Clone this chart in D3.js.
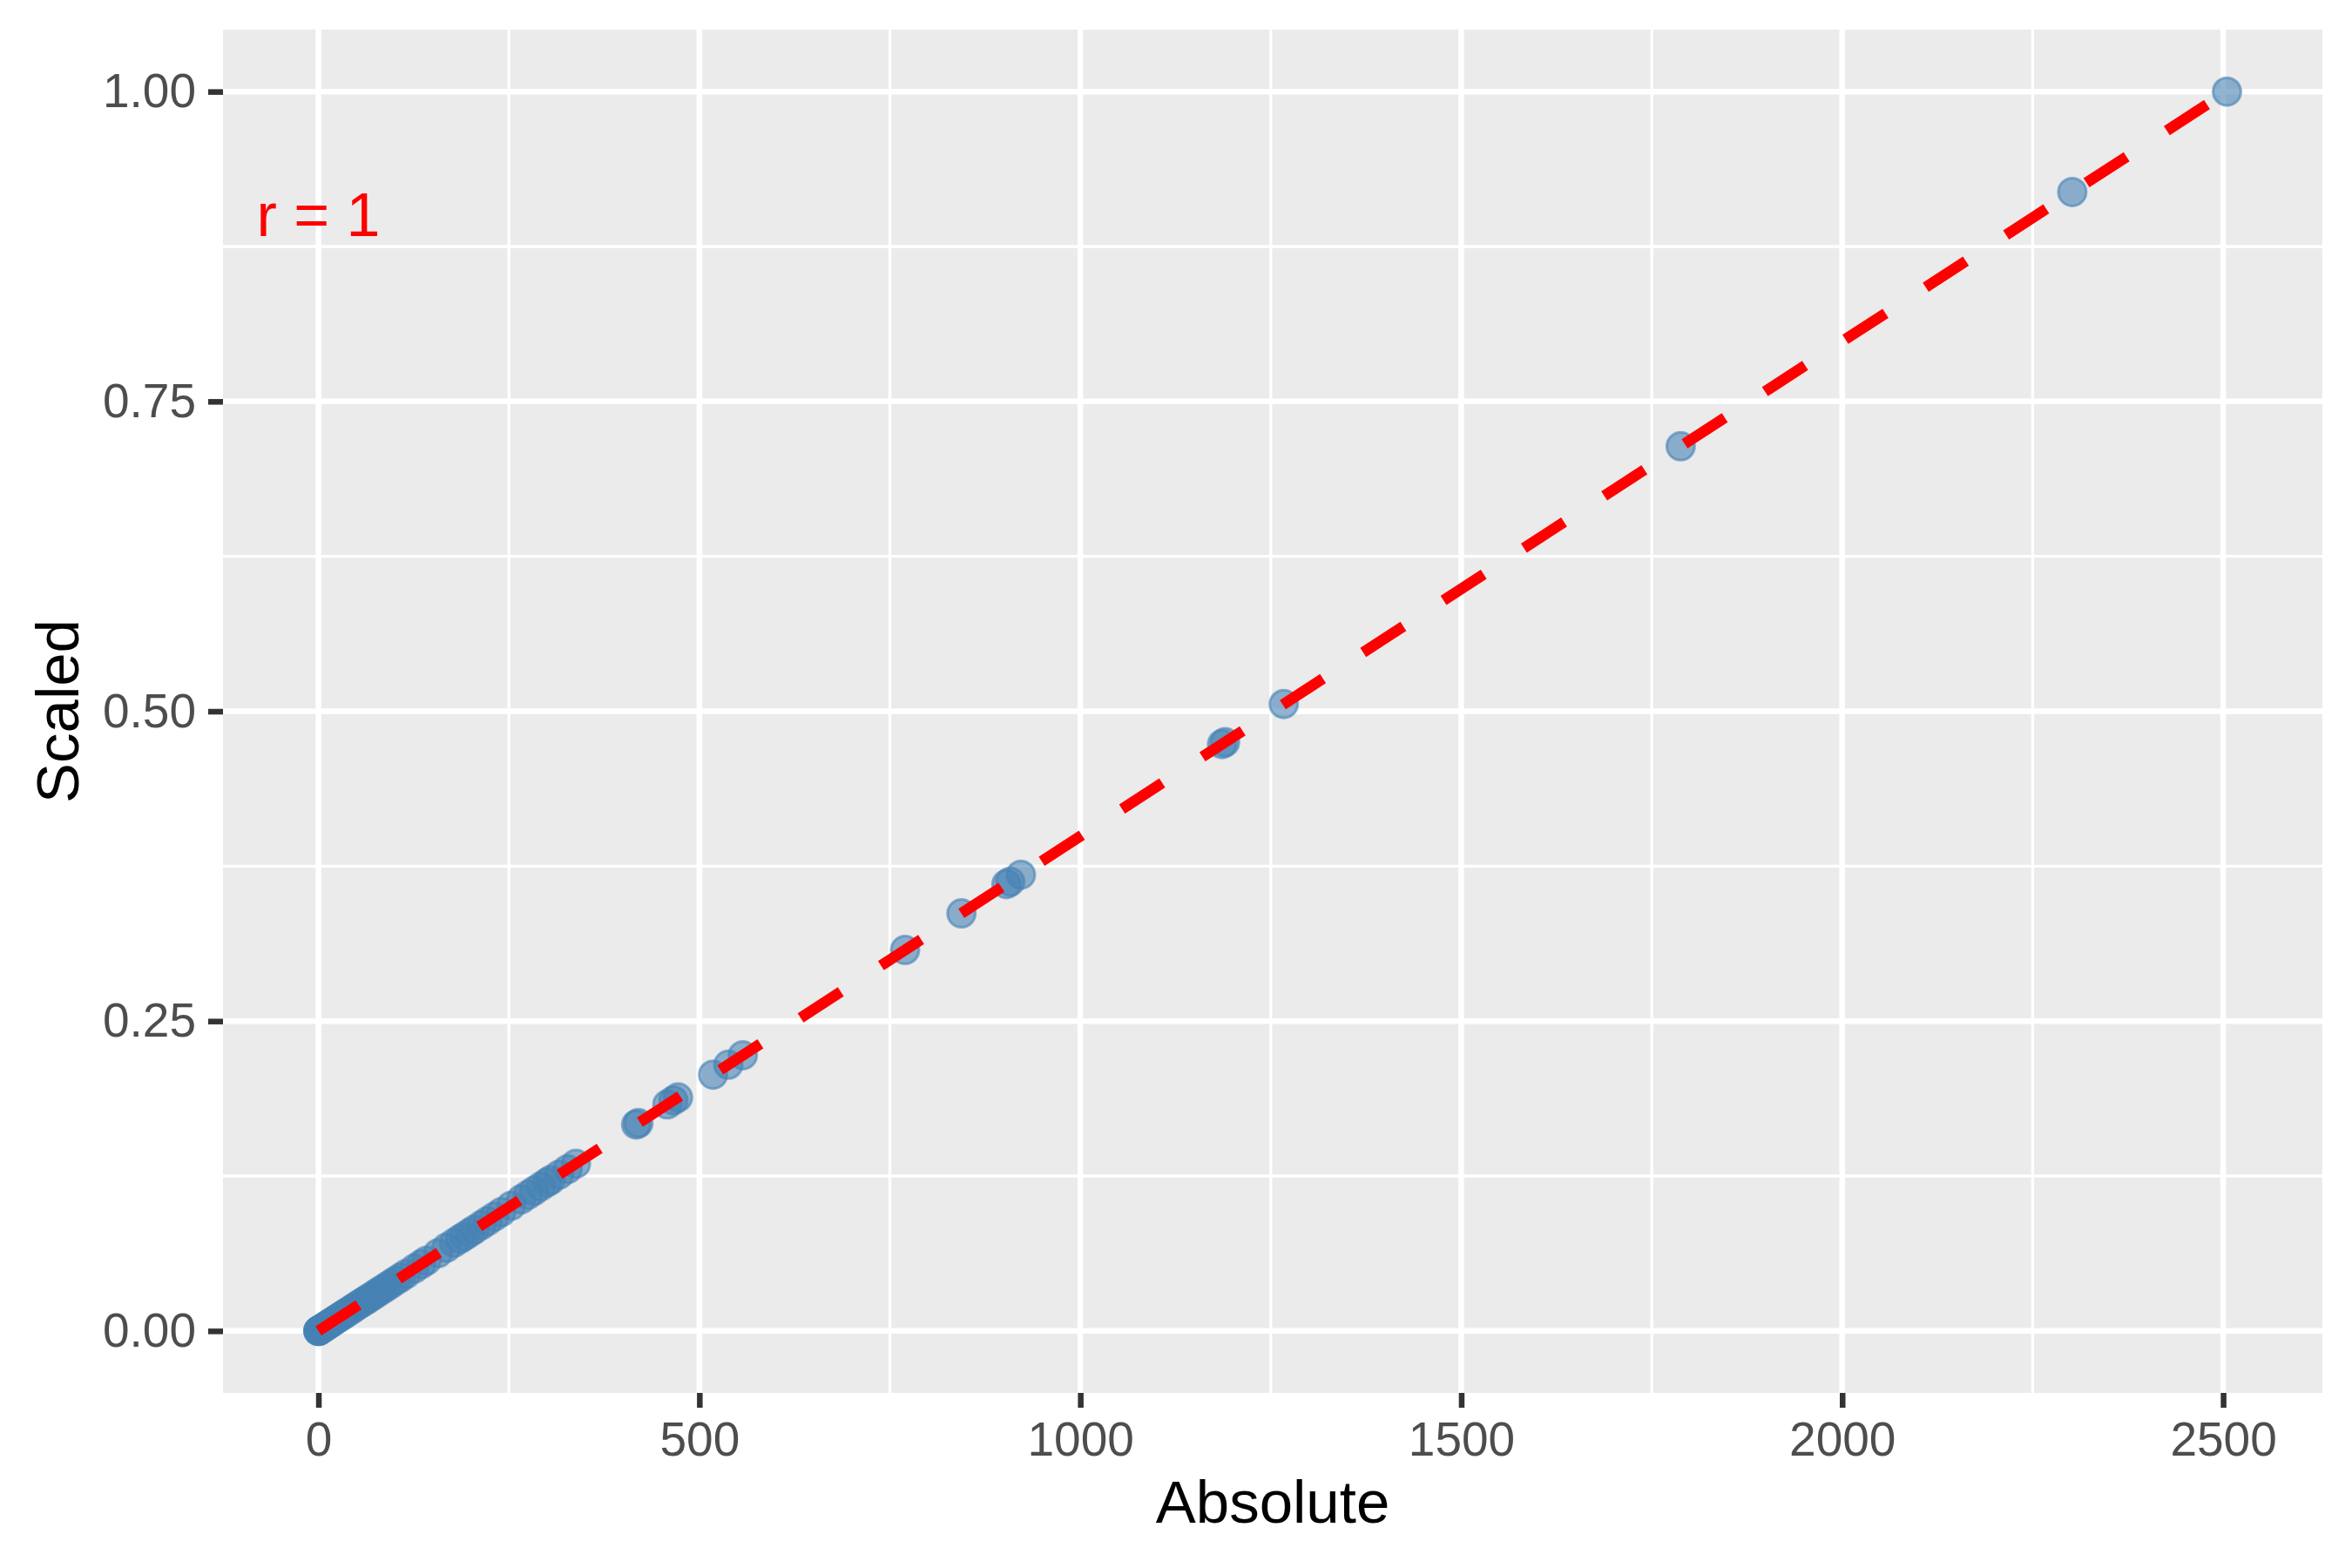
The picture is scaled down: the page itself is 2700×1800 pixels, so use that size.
<!DOCTYPE html>
<html>
<head>
<meta charset="utf-8">
<script src="https://cdn.jsdelivr.net/npm/d3@7"></script>
<style>
  body { margin: 0; background: #fff; }
  text { font-family: "Liberation Sans", Arial, Helvetica, sans-serif; }
</style>
</head>
<body>
<div id="chart-holder"></div>
<script>
// values
var absolute = [0, 0, 0, 1, 2, 3, 5, 6, 8, 10, 12, 14, 16, 19, 22, 25, 28, 31, 34, 37,
  41, 45, 49, 53, 57, 61, 65, 70, 75, 80, 85, 90, 96, 102, 108, 115, 126, 135, 142, 157,
  168, 178, 186, 192, 199, 205, 214, 222, 231, 240, 253, 266, 275, 283, 292, 300, 305, 316, 327, 338,
  417, 420, 458, 466, 472, 518, 538, 557, 770, 844, 903, 908, 922, 1186, 1190, 1267, 1788, 2302, 2505];
var scaled = [0, 0, 0, 0.0004, 0.0008, 0.0012, 0.0020, 0.0024, 0.0032, 0.0040, 0.0048, 0.0056, 0.0064, 0.0076, 0.0088, 0.0100, 0.0112, 0.0124, 0.0136, 0.0148,
  0.0164, 0.0180, 0.0196, 0.0212, 0.0228, 0.0244, 0.0259, 0.0279, 0.0299, 0.0319, 0.0339, 0.0359, 0.0383, 0.0407, 0.0431, 0.0459, 0.0503, 0.0539, 0.0567, 0.0627,
  0.0671, 0.0711, 0.0743, 0.0766, 0.0794, 0.0818, 0.0854, 0.0886, 0.0922, 0.0958, 0.1010, 0.1062, 0.1098, 0.1130, 0.1166, 0.1198, 0.1218, 0.1261, 0.1305, 0.1349,
  0.1665, 0.1677, 0.1828, 0.1860, 0.1884, 0.2068, 0.2148, 0.2224, 0.3074, 0.3369, 0.3605, 0.3625, 0.3681, 0.4735, 0.4750, 0.5058, 0.7138, 0.9190, 1.0000];

var xTicks = [0, 500, 1000, 1500, 2000, 2500];
var xMinor = [250, 750, 1250, 1750, 2250];
var yTicks = [0, 0.25, 0.5, 0.75, 1];
var yMinor = [0.125, 0.375, 0.625, 0.875];
var corLabel = "r = 1";
var corPos = [0, 0.9];

var width = 2700;
var height = 1800;
var panel = { left: 256, right: 2666, top: 34, bottom: 1599 };

var data = absolute.map(function(a, i) { return { x: a, y: scaled[i] }; });

// ggplot style 5% expansion
var xExt = d3.extent(absolute), yExt = d3.extent(scaled);
var xPad = (xExt[1] - xExt[0]) * 0.05, yPad = (yExt[1] - yExt[0]) * 0.05;

var x = d3.scaleLinear()
  .domain([xExt[0] - xPad, xExt[1] + xPad])
  .range([panel.left, panel.right]);
var y = d3.scaleLinear()
  .domain([yExt[0] - yPad, yExt[1] + yPad])
  .range([panel.bottom, panel.top]);

var svg = d3.select("#chart-holder")
  .append("svg")
  .attr("width", width)
  .attr("height", height);

svg.append("rect")
  .attr("x", panel.left)
  .attr("y", panel.top)
  .attr("width", panel.right - panel.left)
  .attr("height", panel.bottom - panel.top)
  .attr("fill", "#EBEBEB");

svg.append("clipPath").attr("id", "clip")
  .append("rect")
  .attr("x", panel.left)
  .attr("y", panel.top)
  .attr("width", panel.right - panel.left)
  .attr("height", panel.bottom - panel.top);

var grid = svg.append("g");
grid.selectAll(".xminor").data(xMinor).enter().append("line")
  .attr("x1", d => x(d)).attr("x2", d => x(d))
  .attr("y1", panel.top).attr("y2", panel.bottom)
  .attr("stroke", "#fff").attr("stroke-width", 3.3);
grid.selectAll(".yminor").data(yMinor).enter().append("line")
  .attr("y1", d => y(d)).attr("y2", d => y(d))
  .attr("x1", panel.left).attr("x2", panel.right)
  .attr("stroke", "#fff").attr("stroke-width", 3.3);
grid.selectAll(".xmajor").data(xTicks).enter().append("line")
  .attr("x1", d => x(d)).attr("x2", d => x(d))
  .attr("y1", panel.top).attr("y2", panel.bottom)
  .attr("stroke", "#fff").attr("stroke-width", 6.5);
grid.selectAll(".ymajor").data(yTicks).enter().append("line")
  .attr("y1", d => y(d)).attr("y2", d => y(d))
  .attr("x1", panel.left).attr("x2", panel.right)
  .attr("stroke", "#fff").attr("stroke-width", 6.5);

var plot = svg.append("g").attr("clip-path", "url(#clip)");

plot.selectAll("circle")
  .data(data)
  .enter()
  .append("circle")
  .attr("cx", d => x(d.x))
  .attr("cy", d => y(d.y))
  .attr("r", 16)
  .attr("fill", "steelblue")
  .attr("fill-opacity", 0.6)
  .attr("stroke", "steelblue")
  .attr("stroke-opacity", 0.6)
  .attr("stroke-width", 3);

// linear fit, drawn over the data range
var mx = d3.mean(absolute), my = d3.mean(scaled);
var sxy = d3.sum(data, d => (d.x - mx) * (d.y - my));
var sxx = d3.sum(data, d => (d.x - mx) * (d.x - mx));
var slope = sxy / sxx, icpt = my - slope * mx;
var fit = xExt.map(v => ({ x: v, y: icpt + slope * v }));

plot.append("path")
  .datum(fit)
  .attr("d", d3.line().x(d => x(d.x)).y(d => y(d.y)))
  .attr("fill", "none")
  .attr("stroke", "red")
  .attr("stroke-width", 12.5)
  .attr("stroke-dasharray", "55,55")
  .attr("stroke-linecap", "butt");

plot.append("text")
  .attr("x", x(corPos[0]))
  .attr("y", y(corPos[1]))
  .attr("text-anchor", "middle")
  .attr("dominant-baseline", "central")
  .attr("fill", "red")
  .attr("font-size", 70)
  .text(corLabel);

// axes
var xAxis = svg.append("g")
  .attr("transform", "translate(0," + panel.bottom + ")")
  .call(d3.axisBottom(x).tickValues(xTicks).tickSize(17).tickPadding(16).tickFormat(d3.format("d")));
var yAxis = svg.append("g")
  .attr("transform", "translate(" + panel.left + ",0)")
  .call(d3.axisLeft(y).tickValues(yTicks).tickSize(17).tickPadding(14).tickFormat(d3.format(".2f")));

[xAxis, yAxis].forEach(function(ax) {
  ax.select(".domain").remove();
  ax.selectAll(".tick line").attr("stroke", "#333333").attr("stroke-width", 6.5);
  ax.selectAll(".tick text")
    .attr("fill", "#4D4D4D")
    .attr("font-size", 55)
    .attr("font-family", "'Liberation Sans', Arial, Helvetica, sans-serif");
});

svg.append("text")
  .attr("x", (panel.left + panel.right) / 2)
  .attr("y", 1748)
  .attr("text-anchor", "middle")
  .attr("font-size", 69)
  .attr("fill", "#000")
  .text("Absolute");

svg.append("text")
  .attr("transform", "translate(90," + (panel.top + panel.bottom) / 2 + ") rotate(-90)")
  .attr("text-anchor", "middle")
  .attr("font-size", 69)
  .attr("fill", "#000")
  .text("Scaled");
</script>
</body>
</html>
